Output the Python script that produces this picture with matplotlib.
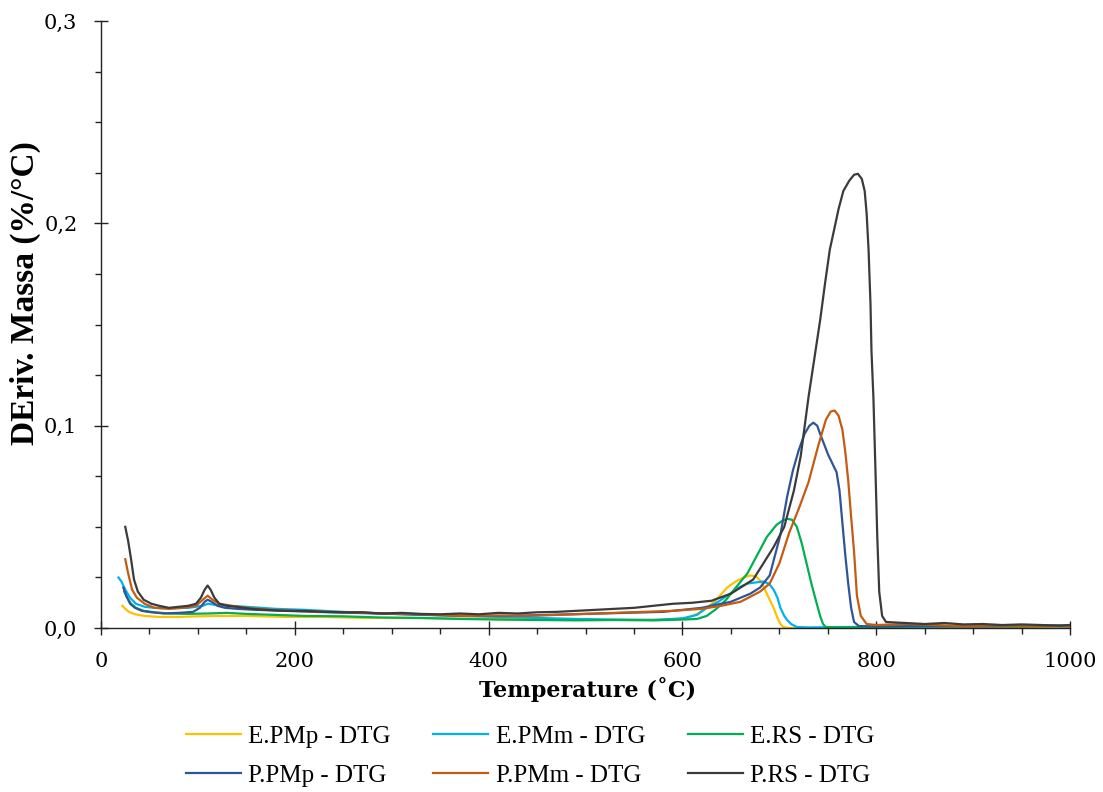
import matplotlib
matplotlib.use("Agg")
import matplotlib.pyplot as plt
from matplotlib.ticker import MultipleLocator, FixedLocator

# ---- data (temperature in C, DTG in %/C) ----
t_epmp = [22, 25, 29, 35, 45, 60, 80, 100, 120, 150, 190, 230, 270, 310, 350, 400, 450, 500,
          550, 590, 605, 615, 625, 635, 646, 655, 663, 670, 676, 681, 686, 690, 694, 698, 701,
          704, 710, 750, 800, 850, 900, 950, 1000]
v_epmp = [0.011, 0.0095, 0.008, 0.0068, 0.006, 0.0055, 0.0055, 0.0058, 0.006, 0.006, 0.0055,
          0.0055, 0.005, 0.005, 0.0048, 0.0045, 0.0042, 0.004, 0.004, 0.0042, 0.005, 0.007,
          0.010, 0.014, 0.020, 0.023, 0.025, 0.026, 0.0255, 0.023, 0.018, 0.014, 0.010, 0.005,
          0.002, 0.0005, 0.0, 0.0, 0.0005, 0.0, 0.0005, 0.0005, 0.0008]

t_epmm = [18, 21, 25, 30, 36, 45, 55, 70, 90, 105, 110, 118, 130, 150, 180, 210, 250, 290, 330,
          370, 410, 450, 490, 530, 570, 600, 615, 625, 637, 649, 658, 667, 675, 683, 689, 694,
          698, 701, 705, 708, 712, 718, 730, 760, 800, 850, 900, 950, 1000]
v_epmm = [0.025, 0.023, 0.019, 0.015, 0.012, 0.0105, 0.010, 0.0098, 0.010, 0.011, 0.012, 0.0115,
          0.011, 0.0105, 0.0095, 0.009, 0.008, 0.0072, 0.0065, 0.006, 0.0055, 0.005, 0.0045,
          0.0042, 0.004, 0.0048, 0.0065, 0.010, 0.013, 0.017, 0.020, 0.022, 0.0225, 0.023, 0.022,
          0.019, 0.015, 0.010, 0.006, 0.004, 0.002, 0.0005, 0.0003, 0.0005, 0.0006, 0.0008,
          0.001, 0.0008, 0.0015]

t_ers = [24, 27, 31, 36, 44, 55, 70, 90, 110, 130, 150, 180, 210, 250, 290, 330, 370, 410, 450,
         490, 530, 570, 600, 615, 625, 635, 645, 655, 667, 677, 687, 697, 703, 708, 713, 718, 723,
         728, 733, 738, 742, 745, 748, 760, 800, 850, 900, 950, 1000]
v_ers = [0.018, 0.015, 0.012, 0.010, 0.0085, 0.0078, 0.0072, 0.007, 0.0072, 0.0075, 0.007,
         0.0065, 0.006, 0.0058, 0.0052, 0.005, 0.0045, 0.0042, 0.004, 0.0038, 0.004, 0.0038,
         0.0042, 0.0045, 0.006, 0.0095, 0.014, 0.020, 0.027, 0.036, 0.045, 0.051, 0.053, 0.054,
         0.0535, 0.050, 0.042, 0.032, 0.022, 0.013, 0.006, 0.002, 0.0005, 0.0003, 0.0005, 0.0008,
         0.001, 0.0008, 0.0012]

t_ppmp = [23, 26, 30, 35, 42, 52, 65, 80, 95, 102, 107, 110, 114, 120, 128, 140, 160, 190, 220,
          260, 300, 340, 380, 420, 460, 500, 540, 580, 620, 650, 670, 680, 690, 701, 708, 714,
          720, 726, 731, 735, 739, 742, 746, 750, 755, 759, 762, 765, 768, 771, 774, 777, 782,
          800, 850, 900, 950, 1000]
v_ppmp = [0.020, 0.016, 0.012, 0.010, 0.0085, 0.0078, 0.0072, 0.0075, 0.008, 0.010, 0.013, 0.014,
          0.013, 0.011, 0.010, 0.0095, 0.009, 0.0085, 0.008, 0.0075, 0.007, 0.0065, 0.006, 0.006,
          0.0065, 0.007, 0.0075, 0.008, 0.010, 0.013, 0.017, 0.020, 0.026, 0.046, 0.065, 0.078,
          0.088, 0.096, 0.100, 0.1015, 0.100, 0.096, 0.091, 0.086, 0.081, 0.077, 0.068, 0.052,
          0.036, 0.022, 0.010, 0.003, 0.001, 0.0008, 0.001, 0.0008, 0.001, 0.0008]

t_ppmm = [25, 28, 32, 37, 45, 55, 70, 85, 98, 105, 110, 115, 122, 135, 150, 175, 200, 230, 260,
          290, 320, 350, 380, 410, 440, 470, 500, 530, 560, 590, 620, 640, 660, 680, 690, 700,
          710, 720, 730, 740, 748, 753, 757, 761, 765, 768, 771, 774, 777, 780, 784, 790, 800,
          830, 860, 890, 920, 950, 980, 1000]
v_ppmm = [0.034, 0.027, 0.019, 0.015, 0.012, 0.010, 0.0095, 0.010, 0.011, 0.014, 0.016, 0.014,
          0.012, 0.011, 0.010, 0.009, 0.0085, 0.008, 0.0078, 0.0072, 0.007, 0.0065, 0.006,
          0.0062, 0.006, 0.0065, 0.007, 0.0075, 0.008, 0.0085, 0.0095, 0.011, 0.013, 0.018,
          0.022, 0.032, 0.047, 0.059, 0.072, 0.090, 0.103, 0.107, 0.1075, 0.105, 0.098, 0.087,
          0.073, 0.055, 0.038, 0.016, 0.006, 0.002, 0.0015, 0.002, 0.0015, 0.001, 0.0012, 0.001,
          0.0012, 0.001]

t_prs = [25, 28, 31, 34, 38, 44, 52, 60, 70, 80, 90, 98, 103, 107, 110, 113, 117, 122, 130, 140,
         155, 170, 190, 210, 230, 250, 270, 290, 310, 330, 350, 370, 390, 410, 430, 450, 470, 490,
         510, 530, 550, 570, 590, 610, 630, 650, 673, 694, 705, 715, 722, 730, 736, 742, 747, 752,
         757, 761, 766, 772, 777, 781, 785, 788, 790, 792, 794, 795, 797, 799, 801, 803, 806, 810,
         830, 850, 870, 890, 910, 930, 950, 970, 990, 1000]
v_prs = [0.050, 0.043, 0.034, 0.024, 0.018, 0.014, 0.012, 0.011, 0.010, 0.0105, 0.011, 0.012,
         0.015, 0.019, 0.021, 0.019, 0.015, 0.012, 0.011, 0.0105, 0.0095, 0.009, 0.0085, 0.0085,
         0.008, 0.0078, 0.0078, 0.0072, 0.0075, 0.007, 0.0068, 0.0072, 0.0068, 0.0075, 0.0072,
         0.0078, 0.008, 0.0085, 0.009, 0.0095, 0.010, 0.011, 0.012, 0.0125, 0.0135, 0.017, 0.024,
         0.040, 0.050, 0.068, 0.085, 0.114, 0.133, 0.152, 0.170, 0.187, 0.198, 0.207, 0.216,
         0.221, 0.224, 0.2245, 0.222, 0.216, 0.205, 0.187, 0.160, 0.137, 0.114, 0.080, 0.045,
         0.018, 0.006, 0.003, 0.0025, 0.002, 0.0025, 0.0018, 0.002, 0.0015, 0.0018, 0.0015,
         0.0012, 0.0015]

labels = ["E.PMp - DTG", "E.PMm - DTG", "E.RS - DTG", "P.PMp - DTG", "P.PMm - DTG", "P.RS - DTG"]
x_ticks = [0, 200, 400, 600, 800, 1000]
y_ticks = [0.0, 0.1, 0.2, 0.3]
y_ticklabels = ["0,0", "0,1", "0,2", "0,3"]

colours = ["#FFC000", "#00B0F0", "#00B050", "#2F5597", "#C55A11", "#3B3B3B"]
series = [(t_epmp, v_epmp), (t_epmm, v_epmm), (t_ers, v_ers),
          (t_ppmp, v_ppmp), (t_ppmm, v_ppmm), (t_prs, v_prs)]

serif = "DejaVu Serif"
serif2 = "Liberation Serif"

fig = plt.figure(figsize=(11.03, 7.92), dpi=100)
ax = fig.add_axes([0.0916, 0.207, 0.8786, 0.7665])

lines = []
for (t, v), c, lab in zip(series, colours, labels):
    ln, = ax.plot(t, v, color=c, lw=1.6, label=lab)
    lines.append(ln)

ax.set_xlim(0, 1000)
ax.set_ylim(0, 0.3)
ax.spines['top'].set_visible(False)
ax.spines['right'].set_visible(False)
for s in ['left', 'bottom']:
    ax.spines[s].set_color('#222222')
    ax.spines[s].set_linewidth(1.0)

ax.xaxis.set_major_locator(FixedLocator(x_ticks))
ax.xaxis.set_minor_locator(MultipleLocator(50))
ax.yaxis.set_major_locator(FixedLocator(y_ticks))
ax.yaxis.set_minor_locator(MultipleLocator(0.025))
ax.set_yticklabels(y_ticklabels)
ax.tick_params(which='major', direction='inout', length=10, width=1.0, color='#222222',
               labelsize=15)
ax.tick_params(axis='x', which='major', pad=12)
ax.tick_params(axis='y', which='major', pad=12)
ax.tick_params(which='minor', direction='out', length=4.5, width=1.0, color='#222222')
for lab in ax.get_xticklabels() + ax.get_yticklabels():
    lab.set_family(serif)

ax.set_xlabel("Temperature (˚C)", family=serif, fontweight='bold', fontsize=16)
ax.xaxis.label.set_va('center')
ax.xaxis.set_label_coords(0.502, -0.102)
ax.set_ylabel("DEriv. Massa (%/°C)", family=serif2, fontweight='bold', fontsize=24)
ax.yaxis.label.set_va('center')
ax.yaxis.set_label_coords(-0.078, 0.552)

order = [0, 3, 1, 4, 2, 5]
fig.legend([lines[i] for i in order], [labels[i] for i in order], ncol=3,
           loc='center', bbox_to_anchor=(0.4805, 0.0455), frameon=False,
           prop={'family': serif2, 'size': 18},
           handlelength=2.2, handletextpad=0.3, columnspacing=1.7, labelspacing=0.67)

fig.savefig("out.png", dpi=100)
